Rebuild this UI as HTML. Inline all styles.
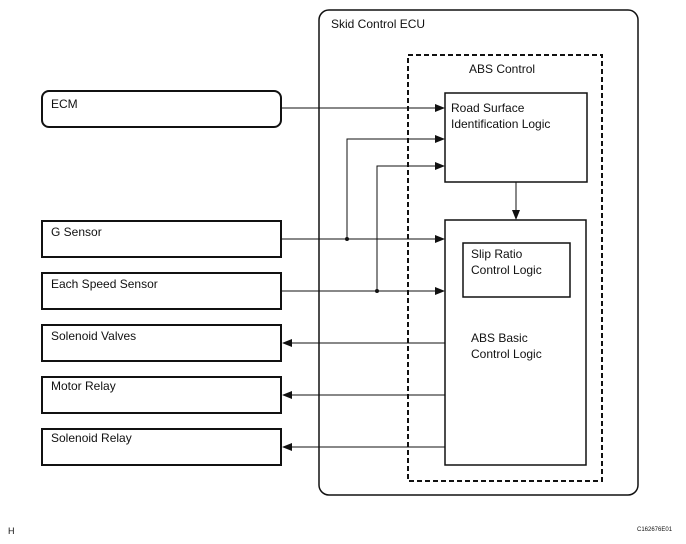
<!DOCTYPE html>
<html><head><meta charset="utf-8"><style>
html,body{margin:0;padding:0;background:#fff}
svg{display:block}
text{font-family:"Liberation Sans",Arial,sans-serif;fill:#111}
</style></head><body>
<svg width="686" height="544" viewBox="0 0 686 544" xmlns="http://www.w3.org/2000/svg">
<defs>
<marker id="a" markerWidth="10" markerHeight="8" refX="9" refY="4" orient="auto" markerUnits="userSpaceOnUse">
<path d="M0,0 L10,4 L0,8 Z" fill="#111"/>
</marker>
</defs>
<g fill="none" stroke="#111">
<rect x="319" y="10" width="319" height="485" rx="10" stroke-width="1.5"/>
<rect x="408" y="55" width="194" height="426" stroke-width="2" stroke-dasharray="5,3"/>
<rect x="445" y="93" width="142" height="89" stroke-width="1.5"/>
<rect x="445" y="220" width="141" height="245" stroke-width="1.5"/>
<rect x="463" y="243" width="107" height="54" stroke-width="1.5"/>
<rect x="42" y="91" width="239" height="36" rx="7" stroke-width="2"/>
<rect x="42" y="221" width="239" height="36" stroke-width="2"/>
<rect x="42" y="273" width="239" height="36" stroke-width="2"/>
<rect x="42" y="325" width="239" height="36" stroke-width="2"/>
<rect x="42" y="377" width="239" height="36" stroke-width="2"/>
<rect x="42" y="429" width="239" height="36" stroke-width="2"/>
<g stroke-width="1">
<line x1="282" y1="108" x2="444" y2="108" marker-end="url(#a)"/>
<polyline points="347,239 347,139 444,139" marker-end="url(#a)"/>
<polyline points="377,291 377,166 444,166" marker-end="url(#a)"/>
<line x1="282" y1="239" x2="444" y2="239" marker-end="url(#a)"/>
<line x1="282" y1="291" x2="444" y2="291" marker-end="url(#a)"/>
<line x1="445" y1="343" x2="283" y2="343" marker-end="url(#a)"/>
<line x1="445" y1="395" x2="283" y2="395" marker-end="url(#a)"/>
<line x1="445" y1="447" x2="283" y2="447" marker-end="url(#a)"/>
<line x1="516" y1="182" x2="516" y2="219" marker-end="url(#a)"/>
</g>
</g>
<circle cx="347" cy="239" r="2" fill="#111"/>
<circle cx="377" cy="291" r="2" fill="#111"/>
<g font-size="12">
<text x="331" y="28">Skid Control ECU</text>
<text x="469" y="73">ABS Control</text>
<text x="451" y="112">Road Surface</text>
<text x="451" y="128">Identification Logic</text>
<text x="471" y="258">Slip Ratio</text>
<text x="471" y="274">Control Logic</text>
<text x="471" y="342">ABS Basic</text>
<text x="471" y="358">Control Logic</text>
<text x="51" y="108">ECM</text>
<text x="51" y="236">G Sensor</text>
<text x="51" y="288">Each Speed Sensor</text>
<text x="51" y="340">Solenoid Valves</text>
<text x="51" y="390">Motor Relay</text>
<text x="51" y="442">Solenoid Relay</text>
</g>
<text x="8" y="534" font-size="9">H</text>
<text x="637" y="531" font-size="6">C162676E01</text>
</svg>
</body></html>
